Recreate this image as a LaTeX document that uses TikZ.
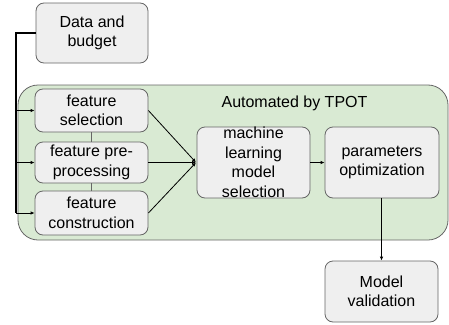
\documentclass[tikz,border=0pt]{standalone}
\usepackage{fontspec}
\setmainfont{Liberation Sans}
\usetikzlibrary{arrows.meta}
\definecolor{boxfill}{HTML}{EFEFEF}
\definecolor{boxline}{HTML}{666666}
\definecolor{greenfill}{HTML}{D9EAD3}
\begin{document}
\begin{tikzpicture}[x=1pt,y=-1pt,
  proc/.style={draw=boxline, fill=boxfill, rounded corners=8pt, line width=0.8pt,
    align=center, inner sep=0pt, font=\fontsize{16}{19.5}\selectfont},
  conn/.style={line width=0.8pt, draw=black},
  tip/.style={-{Latex[length=4pt,width=3.5pt]}}
]
\useasboundingbox (0,0) rectangle (449,324);
% green region
\node[draw=boxline, fill=greenfill, rounded corners=20pt, line width=0.8pt,
  minimum width=430pt, minimum height=155pt, inner sep=0pt] (auto) at (233,162.5) {};
\node[font=\fontsize{16}{19.5}\selectfont] (lbl) at (294.5,103) {Automated by TPOT};
% boxes
\node[proc, minimum width=112pt, minimum height=60pt] (data) at (92,33) {Data and\\budget};
\node[proc, minimum width=113pt, minimum height=43pt] (fs) at (91.5,110.5) {feature\\selection};
\node[proc, minimum width=113pt, minimum height=41pt] (fp) at (91.5,162.5) {feature pre-\\processing};
\node[proc, minimum width=113pt, minimum height=44pt] (fc) at (91.5,213) {feature\\construction};
\node[proc, minimum width=113pt, minimum height=71pt] (ml) at (253.5,162.5) {machine\\learning\\model\\selection};
\node[proc, minimum width=114pt, minimum height=71pt] (po) at (382,162.5) {parameters\\optimization};
\node[proc, minimum width=113pt, minimum height=61pt] (mv) at (381.5,291.5) {Model\\validation};
% links between feature boxes
\draw[conn, draw=boxline] (fs.south) -- (fp.north);
\draw[conn, draw=boxline] (fp.south) -- (fc.north);
% trunk from data
\coordinate (trunk) at (16,33);
\draw[line width=1.2pt] (data.west) -- (trunk) -- (trunk |- fc.west);
\draw[conn, tip] (trunk |- fs.west) -- (fs.west);
\draw[conn, tip] (trunk |- fp.west) -- (fp.west);
\draw[conn, tip] (trunk |- fc.west) -- (fc.west);
% merge
\coordinate (merge) at (196,162.5);
\draw[conn, tip] (fs.east) -- (merge);
\draw[conn, tip] (fp.east) -- (merge);
\draw[conn, tip] (fc.east) -- (merge);
\draw[conn, tip] (ml.east) -- (po.west);
\draw[conn, tip] (po.south -| mv.north) -- (mv.north);
\end{tikzpicture}
\end{document}
